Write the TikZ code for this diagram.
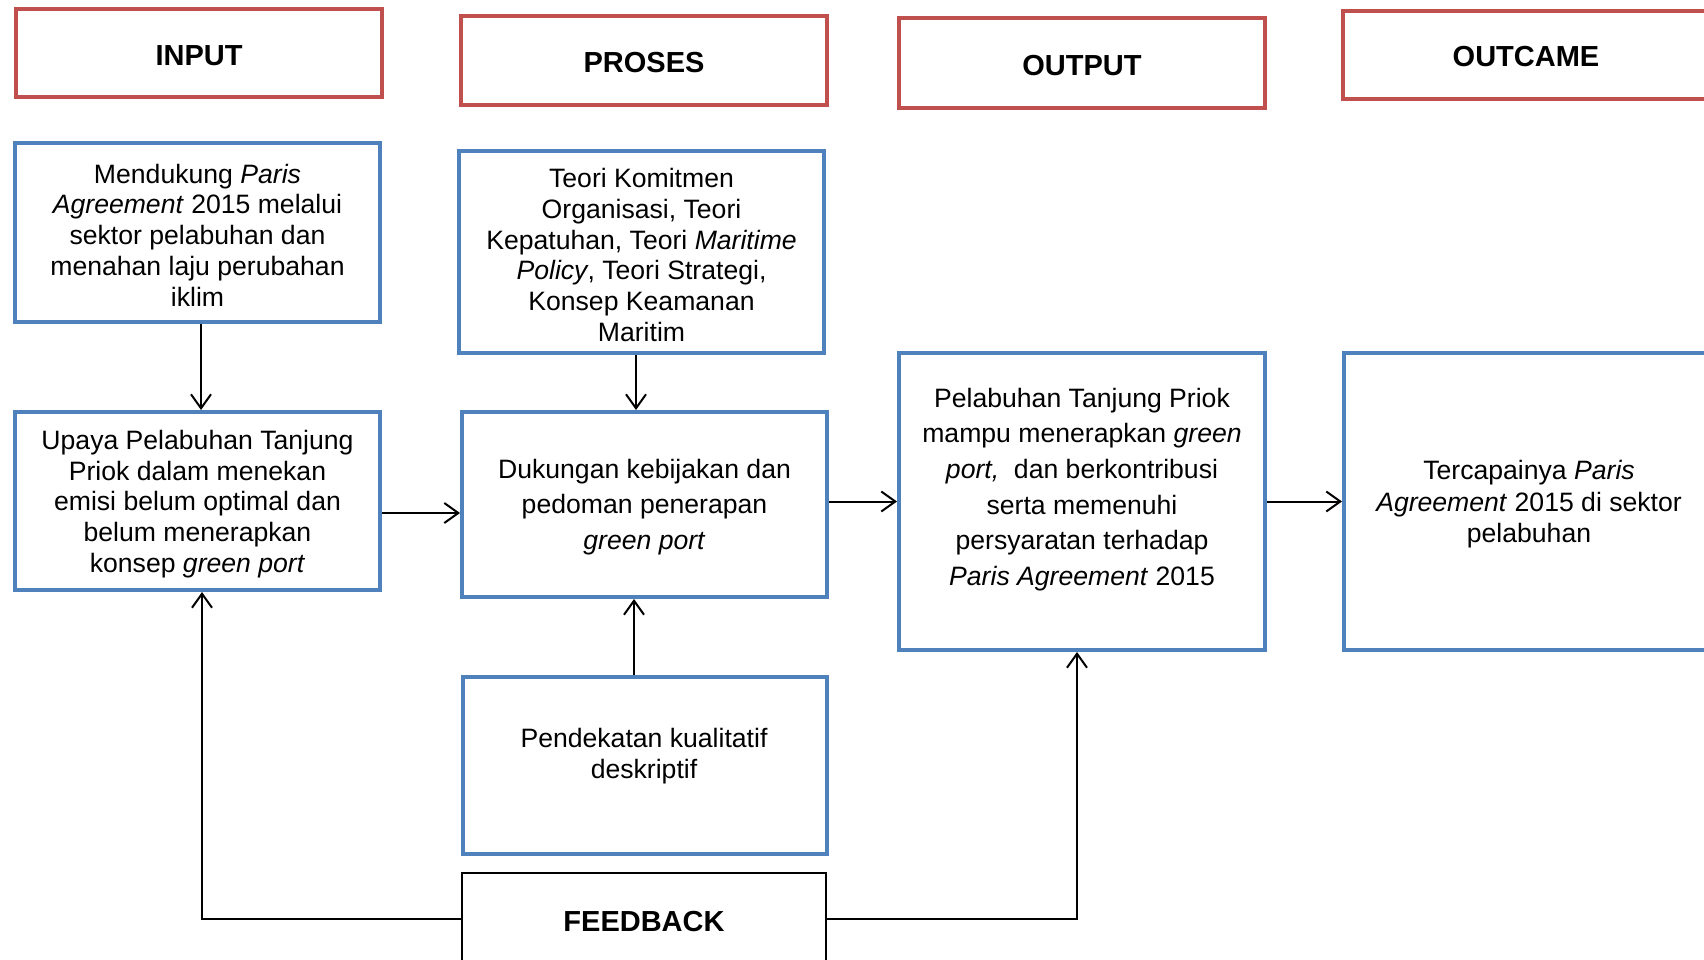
\documentclass[tikz,border=0pt]{standalone}
\usepackage{fontspec}
\setmainfont{Liberation Sans}
\usetikzlibrary{arrows.meta}
\definecolor{boxred}{HTML}{C0504D}
\definecolor{boxblue}{HTML}{4F81BD}
\begin{document}
\begin{tikzpicture}[x=1pt,y=-1pt,
  hdr/.style={draw=boxred, line width=4pt, inner sep=0pt},
  blu/.style={draw=boxblue, line width=4pt, inner sep=0pt},
  fb/.style={draw=black, line width=2.5pt, inner sep=0pt},
  htxt/.style={inner sep=0pt, font=\bfseries\fontsize{29}{34}\selectfont},
  txt/.style={inner sep=0pt, align=center, font=\fontsize{26.6}{30.7}\selectfont},
  txtmid/.style={txt, font=\fontsize{26.6}{31.5}\selectfont},
  txtwide/.style={txt, font=\fontsize{26.6}{35.7}\selectfont},
  arr/.style={line width=2pt, -{Straight Barb[length=14pt,width=20pt,line width=2pt]}}
]
\useasboundingbox[fill=white] (0,0) rectangle (1704,960);

% headers
\node[hdr, minimum width=366pt, minimum height=88pt] (hin) at (199,53) {};
\node[hdr, minimum width=366pt, minimum height=89pt] (hpr) at (644,60.5) {};
\node[hdr, minimum width=366pt, minimum height=90pt] (hou) at (1082,63) {};
\node[hdr, minimum width=366pt, minimum height=88pt] (hoc) at (1526,55) {};
\node[htxt] (hint) at ([yshift=-2.5pt]hin.center) {INPUT};
\node[htxt] (hprt) at ([yshift=-2.5pt]hpr.center) {PROSES};
\node[htxt] (hout) at ([yshift=-2.5pt]hou.center) {OUTPUT};
\node[htxt] (hoct) at ([yshift=-1.5pt]hoc.center) {OUTCAME};

% blue boxes
\node[blu, minimum width=365pt, minimum height=179pt] (m1) at (197.5,232.5) {};
\node[txt] (m1t) at ([yshift=-2.5pt]m1.center)
  {Mendukung \textit{Paris}\\ \textit{Agreement} 2015 melalui\\ sektor pelabuhan dan\\ menahan laju perubahan\\ iklim};
\node[blu, minimum width=365pt, minimum height=202pt] (t1) at (641.5,252) {};
\node[txt] (t1t) at ([yshift=-3pt]t1.center)
  {Teori Komitmen\\ Organisasi, Teori\\ Kepatuhan, Teori \textit{Maritime}\\ \textit{Policy}, Teori Strategi,\\ Konsep Keamanan\\ Maritim};
\node[blu, minimum width=365pt, minimum height=178pt] (u1) at (197.5,501) {};
\node[txt] (u1t) at ([yshift=-3pt]u1.center)
  {Upaya Pelabuhan Tanjung\\ Priok dalam menekan\\ emisi belum optimal dan\\ belum menerapkan\\ konsep \textit{green port}};
\node[blu, minimum width=365pt, minimum height=185pt] (d1) at (644.5,504.5) {};
\node[txtwide] (d1t) at ([yshift=-2.5pt]d1.center)
  {Dukungan kebijakan dan\\ pedoman penerapan\\ \textit{green port}};
\node[blu, minimum width=366pt, minimum height=297pt] (p1) at (1082,501.5) {};
\node[txtwide] (p1t) at (1082,489.5)
  {Pelabuhan Tanjung Priok\\ mampu menerapkan \textit{green}\\ \textit{port,}\ \ dan berkontribusi\\ serta memenuhi\\ persyaratan terhadap\\ \textit{Paris Agreement} 2015};
\node[blu, minimum width=370pt, minimum height=297pt] (c1) at (1529,501.5) {};
\node[txtmid] (c1t) at ([yshift=-3pt]c1.center)
  {Tercapainya \textit{Paris}\\ \textit{Agreement} 2015 di sektor\\ pelabuhan};
\node[blu, minimum width=364pt, minimum height=177pt] (k1) at (645,765.5) {};
\node[txtmid] (k1t) at (644,756) {Pendekatan kualitatif\\ deskriptif};

% feedback
\node[fb, minimum width=364pt, minimum height=92pt] (f1) at (644,919) {};
\node[htxt] (f1t) at ([yshift=-2.5pt]f1.center) {FEEDBACK};

% connectors
\draw[arr] ([xshift=3.5pt]m1.south) -- ([xshift=3.5pt]m1.south |- u1.north);
\draw[arr] ([xshift=-5.5pt]t1.south) -- ([xshift=-5.5pt]t1.south |- d1.north);
\draw[arr] ([yshift=-12pt]u1.east) -- ([yshift=-12pt]u1.east -| d1.west);
\draw[arr] (p1.west -| d1.east) -- (p1.west);
\draw[arr] (p1.east) -- (c1.west);
\draw[arr] ([xshift=-11pt]k1.north) -- ([xshift=-11pt]k1.north |- d1.south);
\draw[arr] (f1.west) -| ([xshift=4.5pt]u1.south);
\draw[arr] (f1.east) -| ([xshift=-5pt]p1.south);
\end{tikzpicture}
\end{document}
